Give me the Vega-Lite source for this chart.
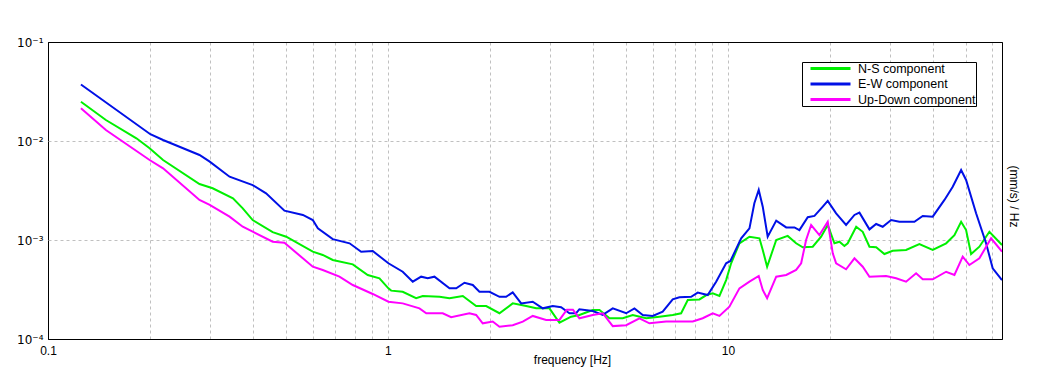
{
"$schema": "https://vega.github.io/schema/vega-lite/v6.json",
"width": 954, "height": 297,
"autosize": {"type": "none"},
"padding": {"left": 48, "top": 42, "right": 49, "bottom": 43},
"background": "white",
"config": {"view": {"stroke": "black", "strokeWidth": 1}, "font": "Liberation Sans"},
"data": {"values": [
{"s":"N-S component","f":0.125,"v":0.02495},{"s":"N-S component","f":0.148,"v":0.0163},{"s":"N-S component","f":0.182,"v":0.01065},{"s":"N-S component","f":0.199,"v":0.00844},{"s":"N-S component","f":0.218,"v":0.00643},{"s":"N-S component","f":0.279,"v":0.00368},{"s":"N-S component","f":0.305,"v":0.00333},{"s":"N-S component","f":0.35,"v":0.00264},{"s":"N-S component","f":0.374,"v":0.00209},{"s":"N-S component","f":0.4,"v":0.00159},{"s":"N-S component","f":0.458,"v":0.0012},{"s":"N-S component","f":0.502,"v":0.00108},{"s":"N-S component","f":0.601,"v":0.000762},{"s":"N-S component","f":0.643,"v":0.000706},{"s":"N-S component","f":0.688,"v":0.000628},{"s":"N-S component","f":0.788,"v":0.000568},{"s":"N-S component","f":0.872,"v":0.000443},{"s":"N-S component","f":0.944,"v":0.00041},{"s":"N-S component","f":1.003,"v":0.000325},{"s":"N-S component","f":1.022,"v":0.000308},{"s":"N-S component","f":1.105,"v":0.0003},{"s":"N-S component","f":1.21,"v":0.000258},{"s":"N-S component","f":1.266,"v":0.000272},{"s":"N-S component","f":1.418,"v":0.000267},{"s":"N-S component","f":1.517,"v":0.000258},{"s":"N-S component","f":1.66,"v":0.000272},{"s":"N-S component","f":1.817,"v":0.000215},{"s":"N-S component","f":1.945,"v":0.000215},{"s":"N-S component","f":2.128,"v":0.000182},{"s":"N-S component","f":2.328,"v":0.000229},{"s":"N-S component","f":2.55,"v":0.000215},{"s":"N-S component","f":2.729,"v":0.000204},{"s":"N-S component","f":2.985,"v":0.000204},{"s":"N-S component","f":3.194,"v":0.000146},{"s":"N-S component","f":3.457,"v":0.000168},{"s":"N-S component","f":3.657,"v":0.000175},{"s":"N-S component","f":4.003,"v":0.000196},{"s":"N-S component","f":4.19,"v":0.000196},{"s":"N-S component","f":4.483,"v":0.000162},{"s":"N-S component","f":4.905,"v":0.000162},{"s":"N-S component","f":5.248,"v":0.000175},{"s":"N-S component","f":5.747,"v":0.000162},{"s":"N-S component","f":6.287,"v":0.000168},{"s":"N-S component","f":6.88,"v":0.000175},{"s":"N-S component","f":7.283,"v":0.000182},{"s":"N-S component","f":7.619,"v":0.000248},{"s":"N-S component","f":8.245,"v":0.000251},{"s":"N-S component","f":8.645,"v":0.000278},{"s":"N-S component","f":9.023,"v":0.000289},{"s":"N-S component","f":9.441,"v":0.000272},{"s":"N-S component","f":9.879,"v":0.000394},{"s":"N-S component","f":10.22,"v":0.000582},{"s":"N-S component","f":10.81,"v":0.000926},{"s":"N-S component","f":11.57,"v":0.00108},{"s":"N-S component","f":12.38,"v":0.00104},{"s":"N-S component","f":12.66,"v":0.000793},{"s":"N-S component","f":13.04,"v":0.000537},{"s":"N-S component","f":13.87,"v":0.001},{"s":"N-S component","f":14.99,"v":0.0011},{"s":"N-S component","f":15.87,"v":0.000926},{"s":"N-S component","f":16.6,"v":0.000844},{"s":"N-S component","f":17.76,"v":0.000855},{"s":"N-S component","f":18.8,"v":0.00108},{"s":"N-S component","f":19.66,"v":0.00142},{"s":"N-S component","f":20.57,"v":0.000926},{"s":"N-S component","f":21.28,"v":0.000961},{"s":"N-S component","f":22.01,"v":0.00087},{"s":"N-S component","f":22.51,"v":0.000926},{"s":"N-S component","f":23.84,"v":0.00136},{"s":"N-S component","f":24.92,"v":0.00121},{"s":"N-S component","f":26.08,"v":0.000856},{"s":"N-S component","f":27.29,"v":0.000844},{"s":"N-S component","f":28.86,"v":0.000722},{"s":"N-S component","f":30.52,"v":0.000779},{"s":"N-S component","f":33.42,"v":0.000793},{"s":"N-S component","f":36.57,"v":0.000911},{"s":"N-S component","f":40.03,"v":0.000793},{"s":"N-S component","f":43.84,"v":0.000926},{"s":"N-S component","f":46.37,"v":0.00112},{"s":"N-S component","f":48.52,"v":0.00153},{"s":"N-S component","f":50.18,"v":0.00126},{"s":"N-S component","f":51.91,"v":0.000722},{"s":"N-S component","f":54.91,"v":0.000856},{"s":"N-S component","f":58.76,"v":0.00121},{"s":"N-S component","f":64,"v":0.00089},
{"s":"E-W component","f":0.125,"v":0.0372},{"s":"E-W component","f":0.2,"v":0.0117},{"s":"E-W component","f":0.218,"v":0.01023},{"s":"E-W component","f":0.279,"v":0.00722},{"s":"E-W component","f":0.299,"v":0.00618},{"s":"E-W component","f":0.342,"v":0.00436},{"s":"E-W component","f":0.4,"v":0.00359},{"s":"E-W component","f":0.438,"v":0.00296},{"s":"E-W component","f":0.496,"v":0.00198},{"s":"E-W component","f":0.562,"v":0.00179},{"s":"E-W component","f":0.601,"v":0.00159},{"s":"E-W component","f":0.622,"v":0.00131},{"s":"E-W component","f":0.688,"v":0.00102},{"s":"E-W component","f":0.771,"v":0.000926},{"s":"E-W component","f":0.834,"v":0.000762},{"s":"E-W component","f":0.902,"v":0.000774},{"s":"E-W component","f":1.003,"v":0.000582},{"s":"E-W component","f":1.105,"v":0.000478},{"s":"E-W component","f":1.183,"v":0.000379},{"s":"E-W component","f":1.252,"v":0.000426},{"s":"E-W component","f":1.309,"v":0.00041},{"s":"E-W component","f":1.37,"v":0.000426},{"s":"E-W component","f":1.517,"v":0.000325},{"s":"E-W component","f":1.588,"v":0.000325},{"s":"E-W component","f":1.679,"v":0.00037},{"s":"E-W component","f":1.776,"v":0.000351},{"s":"E-W component","f":1.858,"v":0.0003},{"s":"E-W component","f":1.989,"v":0.0003},{"s":"E-W component","f":2.128,"v":0.000267},{"s":"E-W component","f":2.226,"v":0.000267},{"s":"E-W component","f":2.328,"v":0.000296},{"s":"E-W component","f":2.465,"v":0.000229},{"s":"E-W component","f":2.666,"v":0.000238},{"s":"E-W component","f":2.853,"v":0.000204},{"s":"E-W component","f":3.052,"v":0.000215},{"s":"E-W component","f":3.231,"v":0.000209},{"s":"E-W component","f":3.418,"v":0.000182},{"s":"E-W component","f":3.576,"v":0.000182},{"s":"E-W component","f":3.657,"v":0.0002},{"s":"E-W component","f":4.003,"v":0.000192},{"s":"E-W component","f":4.283,"v":0.000175},{"s":"E-W component","f":4.584,"v":0.000204},{"s":"E-W component","f":5.019,"v":0.000182},{"s":"E-W component","f":5.309,"v":0.000204},{"s":"E-W component","f":5.616,"v":0.000175},{"s":"E-W component","f":6.009,"v":0.000171},{"s":"E-W component","f":6.429,"v":0.000189},{"s":"E-W component","f":6.88,"v":0.000252},{"s":"E-W component","f":7.2,"v":0.000264},{"s":"E-W component","f":7.794,"v":0.000267},{"s":"E-W component","f":8.15,"v":0.000294},{"s":"E-W component","f":8.721,"v":0.000278},{"s":"E-W component","f":9.233,"v":0.000379},{"s":"E-W component","f":9.879,"v":0.000582},{"s":"E-W component","f":10.17,"v":0.000614},{"s":"E-W component","f":10.94,"v":0.00104},{"s":"E-W component","f":11.57,"v":0.00131},{"s":"E-W component","f":11.96,"v":0.00235},{"s":"E-W component","f":12.32,"v":0.0032},{"s":"E-W component","f":12.66,"v":0.00217},{"s":"E-W component","f":13.09,"v":0.00108},{"s":"E-W component","f":13.87,"v":0.00157},{"s":"E-W component","f":14.84,"v":0.00134},{"s":"E-W component","f":15.69,"v":0.00134},{"s":"E-W component","f":16.23,"v":0.00126},{"s":"E-W component","f":17.17,"v":0.0017},{"s":"E-W component","f":17.97,"v":0.00175},{"s":"E-W component","f":19.01,"v":0.00217},{"s":"E-W component","f":19.66,"v":0.00248},{"s":"E-W component","f":20.81,"v":0.00186},{"s":"E-W component","f":22.26,"v":0.00142},{"s":"E-W component","f":23.56,"v":0.00179},{"s":"E-W component","f":24.37,"v":0.00189},{"s":"E-W component","f":26.08,"v":0.00128},{"s":"E-W component","f":27.29,"v":0.00145},{"s":"E-W component","f":28.53,"v":0.00136},{"s":"E-W component","f":30.2,"v":0.00159},{"s":"E-W component","f":31.94,"v":0.00153},{"s":"E-W component","f":35.36,"v":0.00153},{"s":"E-W component","f":37.41,"v":0.00175},{"s":"E-W component","f":40.03,"v":0.00172},{"s":"E-W component","f":43.34,"v":0.00254},{"s":"E-W component","f":45.84,"v":0.00345},{"s":"E-W component","f":48.52,"v":0.00509},{"s":"E-W component","f":50.18,"v":0.00404},{"s":"E-W component","f":53.7,"v":0.00186},{"s":"E-W component","f":57.46,"v":0.000926},{"s":"E-W component","f":60.09,"v":0.000518},{"s":"E-W component","f":64,"v":0.000394},
{"s":"Up-Down component","f":0.125,"v":0.0214},{"s":"Up-Down component","f":0.148,"v":0.01291},{"s":"Up-Down component","f":0.199,"v":0.00643},{"s":"Up-Down component","f":0.218,"v":0.0053},{"s":"Up-Down component","f":0.279,"v":0.002535},{"s":"Up-Down component","f":0.299,"v":0.00226},{"s":"Up-Down component","f":0.342,"v":0.00172},{"s":"Up-Down component","f":0.374,"v":0.001363},{"s":"Up-Down component","f":0.4,"v":0.001213},{"s":"Up-Down component","f":0.458,"v":0.000961},{"s":"Up-Down component","f":0.496,"v":0.000939},{"s":"Up-Down component","f":0.601,"v":0.000537},{"s":"Up-Down component","f":0.643,"v":0.000498},{"s":"Up-Down component","f":0.72,"v":0.000426},{"s":"Up-Down component","f":0.788,"v":0.000351},{"s":"Up-Down component","f":0.902,"v":0.000285},{"s":"Up-Down component","f":1.003,"v":0.000238},{"s":"Up-Down component","f":1.105,"v":0.000229},{"s":"Up-Down component","f":1.238,"v":0.000204},{"s":"Up-Down component","f":1.296,"v":0.000182},{"s":"Up-Down component","f":1.449,"v":0.000182},{"s":"Up-Down component","f":1.534,"v":0.000166},{"s":"Up-Down component","f":1.736,"v":0.000182},{"s":"Up-Down component","f":1.817,"v":0.000175},{"s":"Up-Down component","f":1.9,"v":0.000144},{"s":"Up-Down component","f":2.033,"v":0.00015},{"s":"Up-Down component","f":2.128,"v":0.000133},{"s":"Up-Down component","f":2.328,"v":0.000138},{"s":"Up-Down component","f":2.492,"v":0.00015},{"s":"Up-Down component","f":2.666,"v":0.000171},{"s":"Up-Down component","f":2.919,"v":0.000156},{"s":"Up-Down component","f":3.194,"v":0.000156},{"s":"Up-Down component","f":3.36,"v":0.000198},{"s":"Up-Down component","f":3.5,"v":0.000198},{"s":"Up-Down component","f":3.657,"v":0.000162},{"s":"Up-Down component","f":4.003,"v":0.000175},{"s":"Up-Down component","f":4.283,"v":0.000182},{"s":"Up-Down component","f":4.584,"v":0.000135},{"s":"Up-Down component","f":5.019,"v":0.000138},{"s":"Up-Down component","f":5.492,"v":0.000162},{"s":"Up-Down component","f":5.876,"v":0.000144},{"s":"Up-Down component","f":6.579,"v":0.00015},{"s":"Up-Down component","f":7.2,"v":0.00015},{"s":"Up-Down component","f":7.88,"v":0.00015},{"s":"Up-Down component","f":8.43,"v":0.000162},{"s":"Up-Down component","f":9.023,"v":0.000182},{"s":"Up-Down component","f":9.441,"v":0.000171},{"s":"Up-Down component","f":10.1,"v":0.000212},{"s":"Up-Down component","f":10.81,"v":0.000325},{"s":"Up-Down component","f":11.57,"v":0.000379},{"s":"Up-Down component","f":12.32,"v":0.000433},{"s":"Up-Down component","f":12.66,"v":0.000313},{"s":"Up-Down component","f":13.04,"v":0.000258},{"s":"Up-Down component","f":13.87,"v":0.000426},{"s":"Up-Down component","f":14.84,"v":0.000443},{"s":"Up-Down component","f":15.87,"v":0.000498},{"s":"Up-Down component","f":16.42,"v":0.000582},{"s":"Up-Down component","f":16.98,"v":0.001},{"s":"Up-Down component","f":17.57,"v":0.001417},{"s":"Up-Down component","f":18.58,"v":0.001123},{"s":"Up-Down component","f":19.66,"v":0.00153},{"s":"Up-Down component","f":20.34,"v":0.000734},{"s":"Up-Down component","f":20.81,"v":0.000582},{"s":"Up-Down component","f":22.26,"v":0.000506},{"s":"Up-Down component","f":23.56,"v":0.000653},{"s":"Up-Down component","f":24.92,"v":0.000537},{"s":"Up-Down component","f":26.08,"v":0.000426},{"s":"Up-Down component","f":29.19,"v":0.000433},{"s":"Up-Down component","f":31.24,"v":0.00041},{"s":"Up-Down component","f":33.42,"v":0.000379},{"s":"Up-Down component","f":35.77,"v":0.000461},{"s":"Up-Down component","f":37.41,"v":0.000401},{"s":"Up-Down component","f":40.03,"v":0.000401},{"s":"Up-Down component","f":43.84,"v":0.000478},{"s":"Up-Down component","f":46.37,"v":0.000443},{"s":"Up-Down component","f":49.05,"v":0.000678},{"s":"Up-Down component","f":51.31,"v":0.000559},{"s":"Up-Down component","f":54.91,"v":0.000653},{"s":"Up-Down component","f":59.44,"v":0.00104},{"s":"Up-Down component","f":64,"v":0.000762}
]},
"mark": {"type": "line", "strokeWidth": 2, "clip": true},
"encoding": {
  "x": {"field": "f", "type": "quantitative", "scale": {"type": "log", "domain": [0.1, 64], "nice": false},
    "axis": {"values": [0.1,0.2,0.3,0.4,0.5,0.6,0.7,0.8,0.9,1,2,3,4,5,6,7,8,9,10,20,30,40,50,60],
      "labelExpr": "datum.value == 0.1 || datum.value == 1 || datum.value == 10 ? '' + datum.value : ''",
      "labelOverlap": false, "labelFlush": false, "labelBound": false, "ticks": false, "domain": false,
      "grid": true,
      "gridColor": {"condition": {"test": "datum.value < 0.11", "value": "black"}, "value": "#c0c0c0"},
      "gridDash": {"condition": {"test": "datum.value < 0.11", "value": []}, "value": [3, 3]},
      "gridWidth": 1,
      "labelFontSize": 12, "labelColor": "black", "labelPadding": 6, "labelDx": 2,
      "title": "frequency [Hz]", "titleFontSize": 12, "titleFontWeight": "normal", "titleColor": "black",
      "titleX": 524, "titleY": 20, "titleBaseline": "middle", "titleAlign": "center"}},
  "y": {"field": "v", "type": "quantitative", "scale": {"type": "log", "domain": [0.0001, 0.1], "nice": false},
    "axis": {"values": [0.0001, 0.001, 0.01, 0.1],
      "labelExpr": "datum.value >= 0.09 ? '10⁻¹' : datum.value >= 0.009 ? '10⁻²' : datum.value >= 0.0009 ? '10⁻³' : '10⁻⁴'",
      "labelOverlap": false, "labelFlush": false, "labelBound": false, "ticks": false, "domain": false,
      "grid": true,
      "gridColor": {"condition": {"test": "datum.value > 0.09 || datum.value < 0.00011", "value": "black"}, "value": "#c0c0c0"},
      "gridDash": {"condition": {"test": "datum.value > 0.09 || datum.value < 0.00011", "value": []}, "value": [3, 3]},
      "gridWidth": 1,
      "labelFont": "DejaVu Sans", "labelFontSize": 12, "labelColor": "black", "labelPadding": 5,
      "title": "(mm/s)  / Hz", "titleFontSize": 12, "titleFontWeight": "normal", "titleColor": "black",
      "titleAngle": 90, "titleX": 965, "titleY": 154, "titleBaseline": "middle", "titleAlign": "center"}},
  "color": {"field": "s", "type": "nominal",
    "scale": {"domain": ["N-S component", "E-W component", "Up-Down component"], "range": ["#00f000", "#0010e6", "#ff00ff"]},
    "legend": {"title": null, "orient": "none", "legendX": 754, "legendY": 20, "fillColor": "white", "strokeColor": "black",
      "padding": 0, "symbolType": "M-4,0H4", "symbolSize": 100, "symbolStrokeWidth": 3, "symbolOffset": 22, "labelOffset": 21,
      "rowPadding": 2.5, "labelFontSize": 12.5, "labelColor": "black", "labelExpr": "datum.label + '\u00a0\u00a0\u00a0\u00a0\u00a0\u00a0'"}}
}
}
